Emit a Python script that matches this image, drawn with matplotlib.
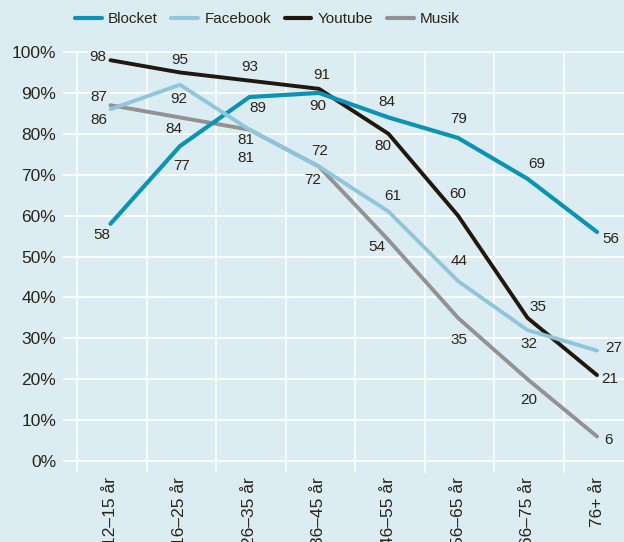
import matplotlib
matplotlib.use('Agg')
import matplotlib.pyplot as plt

plt.rcParams['font.family'] = ['Liberation Sans', 'DejaVu Sans']

# data
kategorier = ['12–15 år', '16–25 år', '26–35 år', '36–45 år',
              '46–55 år', '56–65 år', '66–75 år', '76+ år']
blocket = [58, 77, 89, 90, 84, 79, 69, 56]
facebook = [86, 92, 81, 72, 61, 44, 32, 27]
youtube = [98, 95, 93, 91, 80, 60, 35, 21]
musik = [87, 84, 81, 72, 54, 35, 20, 6]
yticks = [0, 10, 20, 30, 40, 50, 60, 70, 80, 90, 100]

bg = '#dcecf3'
textcol = '#2b2318'

# label offsets (pixels) for each value label
off_blocket = [(-9, -11), (2, -20), (8, -11), (-1, -13), (-2, 15), (1, 19), (9, 15), (14, -7)]
off_facebook = [(-12, -11), (-1, -14), (-4, -28), (1, 16), (4, 16), (1, 20), (1, -14), (17, 3)]
off_youtube = [(-13, 3), (0, 12), (0, 14), (3, 14), (-6, -12), (0, 22), (10, 11), (13, -4)]
off_musik = [(-12, 8), (-6, -12), (-4, -10), (-6, -13), (-12, -7), (1, -22), (1, -21), (11, -4)]

fig = plt.figure(figsize=(6.24, 5.42), dpi=100, facecolor=bg)
ax = fig.add_axes([63 / 624, 1 - 473 / 542, 1 - 63 / 624, (473 - 51) / 542])
ax.set_facecolor(bg)

x = list(range(len(kategorier)))
series = [
    ('Musik', musik, '#929292', 2.8, off_musik, 1),
    ('Youtube', youtube, '#21180d', 2.8, off_youtube, 2),
    ('Blocket', blocket, '#0a93b5', 3.0, off_blocket, 3),
    ('Facebook', facebook, '#8fc6dc', 2.8, off_facebook, 4),
]
lines = {}
for name, vals, col, lw, offs, z in series:
    l, = ax.plot(x, vals, color=col, lw=lw, zorder=z, solid_capstyle='round',
                 solid_joinstyle='round', clip_on=False)
    lines[name] = l
    for i, v in enumerate(vals):
        ax.annotate(str(v), (i, v), xytext=offs[i], textcoords='offset pixels',
                    ha='center', va='center', fontsize=11, color=textcol, zorder=6)

ax.set_xlim(-0.683, 7.388)
ax.set_ylim(-2.93, 100.25)

# grid: vertical lines between categories, horizontal at ticks
for b in range(len(kategorier)):
    ax.axvline(b - 0.48, color='white', lw=1.1, zorder=0)
for t in yticks:
    ax.axhline(t, color='white', lw=1.3, zorder=0)

ax.set_yticks(yticks)
ax.set_yticklabels([f'{t}%' for t in yticks], fontsize=12.5, color=textcol)
ax.set_xticks(x)
ax.set_xticklabels(kategorier, rotation=90, fontsize=12.5, color=textcol, va='top')
ax.tick_params(axis='both', length=0)
ax.tick_params(axis='y', pad=5)
ax.tick_params(axis='x', pad=3)
for s in ax.spines.values():
    s.set_visible(False)

order = ['Blocket', 'Facebook', 'Youtube', 'Musik']
leg = fig.legend([lines[n] for n in order], order, loc='center left',
                 bbox_to_anchor=(75 / 624, 1 - 19 / 542), ncol=4, frameon=False,
                 fontsize=11, handlelength=1.75, handletextpad=0.4,
                 columnspacing=0.9, borderpad=0, borderaxespad=0)
for h in leg.get_lines():
    h.set_linewidth(3)
for t in leg.get_texts():
    t.set_color(textcol)

fig.savefig('out.png', dpi=100, facecolor=bg)
